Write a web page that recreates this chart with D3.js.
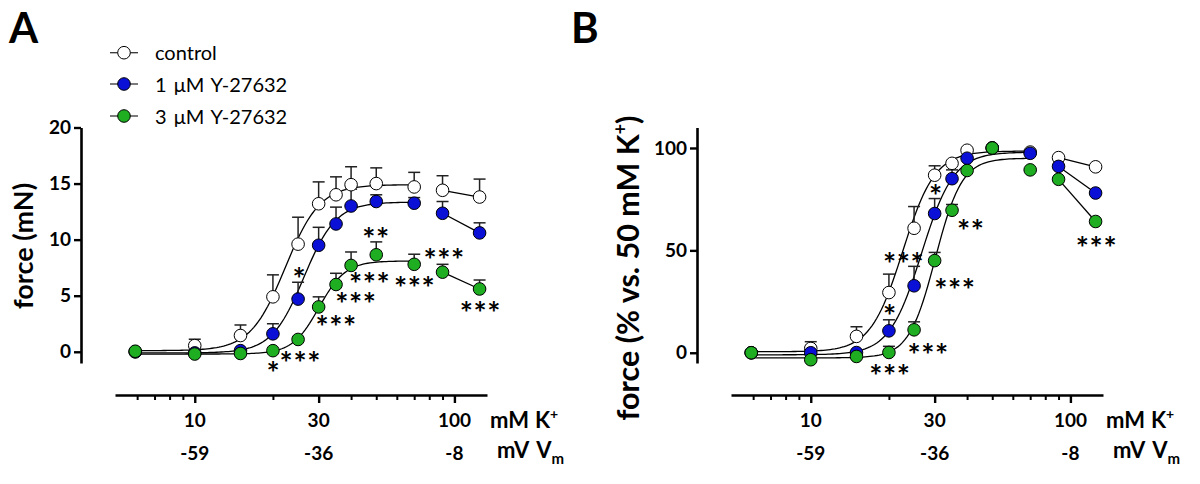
<!DOCTYPE html>
<html><head><meta charset="utf-8">
<script src="https://cdn.jsdelivr.net/npm/d3@7"></script>
<style>
body{margin:0;background:#fff}
svg{display:block}
text{font-family:Lato,'Liberation Sans',sans-serif;fill:#000}
</style>
</head><body>
<svg id="chart" width="1200" height="484"></svg>
<script>
// ---------- data ----------
const conc = [5.9, 10, 15, 20, 25, 30, 35, 40, 50, 70, 90, 125];   // mM K+
const seriesNames = ["control", "1 \u03BCM Y-27632", "3 \u03BCM Y-27632"];
const seriesFill = ["#ffffff", "#0a10d6", "#1fae22"];

// Panel A: force (mN), mean and upper SEM
const ctrlA  = [0, 0.55, 1.45, 4.9, 9.6, 13.2, 14.0, 14.9, 15.0, 14.7, 14.4, 13.8];
const ctrlAErr = [null, 0.57, 0.94, 1.96, 2.4, 1.95, 1.6, 1.6, 1.4, 1.3, 1.3, 1.6];
const y1A    = [0, -0.1, 0.1, 1.6, 4.7, 9.5, 11.4, 13.0, 13.4, 13.25, 12.35, 10.6];
const y1AErr = [null, null, null, 0.9, 1.5, 1.6, 1.5, 1.5, 0.6, 0.5, 1.05, 0.9];
const y3A    = [0.05, -0.2, -0.15, 0.1, 1.1, 4.0, 6.0, 7.7, 8.65, 7.8, 7.1, 5.6];
const y3AErr = [null, null, null, null, null, 0.9, 1.0, 1.2, 1.15, 0.9, 0.7, 0.8];

// Panel B: force (% vs. 50 mM K+)
const ctrlB  = [0, 2.1, 8.0, 29.4, 60.8, 86.7, 92.5, 98.9, 100, 98, 95.3, 90.8];
const ctrlBErr = [null, 3.3, 4.7, 9.0, 10.6, 4.6, null, null, null, null, null, null];
const y1B    = [0, 0, 0.1, 10.7, 32.7, 68.0, 85.0, 95.0, 100, 97.4, 91.0, 78.0];
const y1BErr = [null, null, null, 5.4, 9.5, 7.3, 4.3, null, null, null, null, null];
const y3B    = [0, -3.4, -1.8, 0.15, 11.2, 45.0, 69.6, 89.0, 100, 89.3, 84.7, 64.1];
const y3BErr = [null, null, null, 3.0, 3.9, 4.0, 2.8, null, null, null, null, null];

// Hill fits [bottom, top, EC50 (mM), slope]
const fitCtrlA = [0.1, 14.9, 22.3, 6.5];
const fit1A    = [-0.1, 13.35, 26.3, 7];
const fit3A    = [-0.2, 8.1, 30.1, 8.5];
const fitCtrlB = [0.5, 98.5, 22.6, 7];
const fit1B    = [-1, 98, 26.7, 7];
const fit3B    = [-2.5, 95, 30.2, 8.5];
const fitRange = [5.9, 70];
const linkedConc = [90, 125];   // points joined by straight lines

// axis ticks
const yTicksA = [0, 5, 10, 15, 20];
const yTicksB = [0, 50, 100];
const xMajor = [10, 30, 100];
const xMajorLabels = ["10", "30", "100"];
const xMvLabels = ["-59", "-36", "-8"];
const xMinor = [6, 7, 8, 9, 20, 40, 50, 60, 70, 80, 90];

// significance marks [conc, value, label]
const starsA = [
  [25.2, 7.1, "*"], [20, -1.3, "*"], [25.4, -0.4, "***"], [34.9, 2.8, "***"],
  [41.6, 4.85, "***"], [47.0, 6.6, "***"], [49.7, 10.65, "**"], [70, 6.3, "***"],
  [91, 8.8, "***"], [125.5, 4.05, "***"]
];
const starsB = [
  [22.7, 46.6, "***"], [30.2, 79.7, "*"], [41.2, 62.6, "**"], [20.1, 21.0, "*"],
  [35.8, 34.1, "***"], [28.2, 2.3, "***"], [20.1, -8.0, "***"], [125.6, 54.3, "***"]
];

// ---------- drawing ----------
const svg = d3.select("#chart");
const hill = (x, p) => p[0] + (p[1] - p[0]) / (1 + Math.pow(p[2] / x, p[3]));
const STAR_SIZE = 31;

function panel(opt) {
  const g = svg.append("g");
  const x = d3.scaleLog().domain([4.93, 133.5]).range([opt.x0, opt.x0 + 372]);
  const y = d3.scaleLinear().domain(opt.yDomain).range([363, 127.5]);
  const xAxisY = 395;

  // y axis
  const ya = g.append("g").attr("transform", `translate(${opt.yAxisX},0)`)
    .call(d3.axisLeft(y).tickValues(opt.yTicks).tickSize(7).tickSizeOuter(0).tickPadding(3));
  ya.select(".domain").attr("stroke", "#000").attr("stroke-width", 2.6);
  ya.selectAll(".tick line").attr("stroke", "#000").attr("stroke-width", 2.4);
  ya.selectAll(".tick text").attr("font-family", "Lato").attr("font-weight", "bold")
    .attr("font-size", 19).attr("fill", "#000");

  // x axis
  const xaMin = g.append("g").attr("transform", `translate(0,${xAxisY})`)
    .call(d3.axisBottom(x).tickValues(xMinor).tickSize(5).tickSizeOuter(0).tickFormat(""));
  xaMin.select(".domain").attr("stroke", "#000").attr("stroke-width", 2.6);
  xaMin.selectAll(".tick line").attr("stroke", "#000").attr("stroke-width", 2);
  const xaMaj = g.append("g").attr("transform", `translate(0,${xAxisY})`)
    .call(d3.axisBottom(x).tickValues(xMajor).tickSize(8).tickSizeOuter(0).tickFormat(""));
  xaMaj.select(".domain").remove();
  xaMaj.selectAll(".tick line").attr("stroke", "#000").attr("stroke-width", 2.4);

  g.selectAll(".kl").data(xMajor).join("text")
    .attr("x", d => x(d)).attr("y", 427).attr("text-anchor", "middle")
    .attr("font-weight", "bold").attr("font-size", 19).text((d, i) => xMajorLabels[i]);
  g.selectAll(".vl").data(xMajor).join("text")
    .attr("x", d => x(d)).attr("y", 460).attr("text-anchor", "middle")
    .attr("font-weight", "bold").attr("font-size", 19).text((d, i) => xMvLabels[i]);

  const t1 = g.append("text").attr("x", opt.x0 + 375).attr("y", 427.5)
    .attr("font-weight", "bold").attr("font-size", 22);
  t1.append("tspan").text("mM");
  t1.append("tspan").attr("dx", 6).text("K");
  t1.append("tspan").attr("dy", -9).attr("font-size", 14).text("+");
  const t2 = g.append("text").attr("x", opt.x0 + 382).attr("y", 458)
    .attr("font-weight", "bold").attr("font-size", 22);
  t2.append("tspan").text("mV");
  t2.append("tspan").attr("dx", 7).text("V");
  t2.append("tspan").attr("dy", 6).attr("font-size", 15).text("m");

  // y title
  const yt = g.append("text")
    .attr("transform", `translate(${opt.titleX},${opt.titleY}) rotate(-90)`)
    .attr("text-anchor", "middle").attr("font-weight", "bold").attr("font-size", opt.titleSize);
  opt.title(yt);

  // panel letter
  g.append("text").attr("x", opt.letterX).attr("y", 43).attr("font-weight", "bold")
    .attr("font-size", 42).text(opt.letter);

  // fitted curves and linked segments
  const samples = d3.range(0, 121).map(i => fitRange[0] * Math.pow(fitRange[1] / fitRange[0], i / 120));
  const line = d3.line().x(d => x(d[0])).y(d => y(d[1]));
  opt.fits.forEach(p => {
    g.append("path").attr("d", line(samples.map(c => [c, hill(c, p)])))
      .attr("fill", "none").attr("stroke", "#000").attr("stroke-width", 1.3);
  });
  opt.means.forEach(m => {
    const pts = linkedConc.map(c => [c, m[conc.indexOf(c)]]);
    g.append("path").attr("d", line(pts))
      .attr("fill", "none").attr("stroke", "#000").attr("stroke-width", 1.3);
  });

  // error bars (upper)
  opt.means.forEach((m, si) => {
    const e = opt.errs[si];
    conc.forEach((c, i) => {
      if (e[i] == null) return;
      const xx = x(c), y0 = y(m[i]), y1 = y(m[i] + e[i]);
      g.append("line").attr("x1", xx).attr("x2", xx).attr("y1", y0).attr("y2", y1)
        .attr("stroke", "#222").attr("stroke-width", 1.5);
      g.append("line").attr("x1", xx - 6).attr("x2", xx + 6).attr("y1", y1).attr("y2", y1)
        .attr("stroke", "#222").attr("stroke-width", 1.5);
    });
  });

  // points
  opt.means.forEach((m, si) => {
    g.selectAll(null).data(conc.map((c, i) => [c, m[i]])).join("circle")
      .attr("cx", d => x(d[0])).attr("cy", d => y(d[1])).attr("r", 6.3)
      .attr("fill", seriesFill[si]).attr("stroke", "#000").attr("stroke-width", 1);
  });

  // stars
  g.selectAll(null).data(opt.stars).join("text")
    .attr("x", d => x(d[0]) + 0.4).attr("y", d => y(d[1]) + STAR_SIZE * 0.57)
    .attr("text-anchor", "middle").attr("font-family", "Lato").attr("font-weight", "bold")
    .attr("font-size", STAR_SIZE).attr("letter-spacing", 0.6).text(d => d[2]);
}

panel({
  x0: 115, yAxisX: 81, yDomain: [-1, 20], yTicks: yTicksA,
  titleX: 33, titleY: 246, titleSize: 27,
  title: t => t.text("force (mN)"),
  letter: "A", letterX: 9,
  fits: [fitCtrlA, fit1A, fit3A],
  means: [ctrlA, y1A, y3A], errs: [ctrlAErr, y1AErr, y3AErr],
  stars: starsA
});
panel({
  x0: 731, yAxisX: 697, yDomain: [-5, 110], yTicks: yTicksB,
  titleX: 639, titleY: 268, titleSize: 30.5,
  title: t => { t.append("tspan").text("force (% vs. 50 mM K");
                t.append("tspan").attr("dy", -12).attr("font-size", 18).text("+");
                t.append("tspan").attr("dy", 12).text(")"); },
  letter: "B", letterX: 571,
  fits: [fitCtrlB, fit1B, fit3B],
  means: [ctrlB, y1B, y3B], errs: [ctrlBErr, y1BErr, y3BErr],
  stars: starsB
});

// legend
const legendRows = [52.7, 84, 116];
const lg = svg.append("g");
seriesNames.forEach((name, i) => {
  const yy = legendRows[i];
  lg.append("line").attr("x1", 110).attr("x2", 138).attr("y1", yy).attr("y2", yy)
    .attr("stroke", "#333").attr("stroke-width", 1.3);
  lg.append("circle").attr("cx", 124).attr("cy", yy).attr("r", 6.3)
    .attr("fill", seriesFill[i]).attr("stroke", "#000").attr("stroke-width", 1);
  lg.append("text").attr("x", 155).attr("y", yy + 7.6).attr("font-size", 20)
    .attr("word-spacing", 2).text(name);
});
</script>
</body></html>
